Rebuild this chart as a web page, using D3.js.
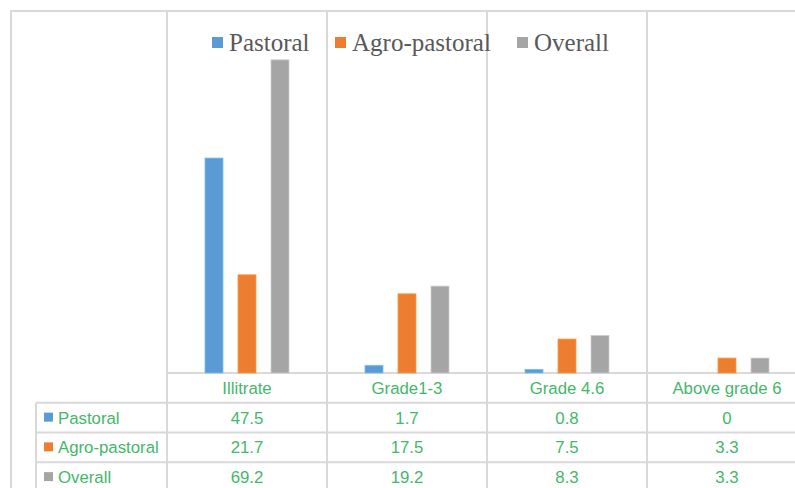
<!DOCTYPE html>
<html>
<head>
<meta charset="utf-8">
<script src="https://cdn.jsdelivr.net/npm/d3@7"></script>
<style>
  body { margin: 0; background: #fff; }
  svg { display: block; }
</style>
</head>
<body>
<script>
// data
var categories = ["Illitrate", "Grade1-3", "Grade 4.6", "Above grade 6"];
var seriesNames = ["Pastoral", "Agro-pastoral", "Overall"];
var pastoral = [47.5, 1.7, 0.8, 0];
var agroPastoral = [21.7, 17.5, 7.5, 3.3];
var overall = [69.2, 19.2, 8.3, 3.3];
var colors = ["#5b9bd5", "#ed7d31", "#a5a5a5"];

var values = [pastoral, agroPastoral, overall];

var width = 795, height = 488;
var svg = d3.select("body").append("svg")
    .attr("width", width)
    .attr("height", height);

var gridColor = "#d9d9d9";
var textGreen = "#45b76a";

var x = d3.scaleBand().domain(categories).range([167, 807]);
var xs = d3.scaleBand().domain(seriesNames).range([0, x.bandwidth()])
    .paddingInner(0.4545).paddingOuter(1.1515);
var y = d3.scaleLinear().domain([0, 80]).range([373, 11]);

// table rows (header + one per series)
var rows = d3.scaleBand().domain(["head"].concat(seriesNames)).range([373, 492]);

// outer frame
svg.append("line").attr("x1", 11).attr("x2", 11).attr("y1", 10).attr("y2", height)
  .attr("stroke", gridColor).attr("stroke-width", 2);
svg.append("line").attr("x1", 10).attr("x2", width).attr("y1", 11).attr("y2", 11)
  .attr("stroke", gridColor).attr("stroke-width", 2);

// vertical category dividers
svg.selectAll("line.div").data(categories).enter().append("line")
  .attr("class", "div")
  .attr("x1", function(d){ return x(d); })
  .attr("x2", function(d){ return x(d); })
  .attr("y1", 11).attr("y2", height)
  .attr("stroke", gridColor).attr("stroke-width", 2);

// baseline / header line
svg.append("line").attr("x1", 167).attr("x2", width).attr("y1", y(0)).attr("y2", y(0))
  .attr("stroke", gridColor).attr("stroke-width", 2);

// row lines
svg.selectAll("line.row").data(seriesNames).enter().append("line")
  .attr("class", "row")
  .attr("x1", 36).attr("x2", width)
  .attr("y1", function(d){ return rows(d); })
  .attr("y2", function(d){ return rows(d); })
  .attr("stroke", gridColor).attr("stroke-width", 2);
svg.append("line").attr("x1", 36).attr("x2", 36)
  .attr("y1", rows(seriesNames[0])).attr("y2", height)
  .attr("stroke", gridColor).attr("stroke-width", 2);

// bars
seriesNames.forEach(function(s, si){
  svg.selectAll("rect.s" + si).data(values[si]).enter().append("rect")
    .attr("class", "s" + si)
    .attr("x", function(d, i){ return x(categories[i]) + xs(s); })
    .attr("width", xs.bandwidth())
    .attr("y", function(d){ return y(d); })
    .attr("height", function(d){ return y(0) - y(d); })
    .attr("fill", colors[si])
    .attr("stroke", d3.color(colors[si]).brighter(0.6))
    .attr("stroke-width", 0.8);
});

// legend
var legendX = [212, 335, 517];
var legend = svg.selectAll("g.leg").data(seriesNames).enter().append("g")
  .attr("class", "leg")
  .attr("transform", function(d, i){ return "translate(" + legendX[i] + ",43)"; });
legend.append("rect").attr("x", 0).attr("y", -6).attr("width", 11).attr("height", 11)
  .attr("fill", function(d, i){ return colors[i]; });
legend.append("text").attr("x", 17).attr("y", 8)
  .attr("font-family", "Liberation Serif, Times New Roman, serif")
  .attr("font-size", 25).attr("fill", "#595959")
  .text(function(d){ return d; });

// table header
var tfont = "Liberation Sans, Arial, sans-serif";
var tsize = 16.8;
svg.selectAll("text.head").data(categories).enter().append("text")
  .attr("class", "head")
  .attr("x", function(d){ return x(d) + x.bandwidth() / 2; })
  .attr("y", rows("head") + rows.bandwidth() / 2 + 6)
  .attr("text-anchor", "middle")
  .attr("font-family", tfont).attr("font-size", tsize).attr("fill", textGreen)
  .text(function(d){ return d; });

// table rows
seriesNames.forEach(function(s, si){
  var cy = rows(s) + rows.bandwidth() / 2;
  svg.append("rect").attr("x", 44).attr("y", cy - 5).attr("width", 9).attr("height", 9)
    .attr("fill", colors[si]);
  svg.append("text").attr("x", 58).attr("y", cy + 6)
    .attr("font-family", tfont).attr("font-size", tsize).attr("fill", textGreen)
    .text(s);
  svg.selectAll("text.v" + si).data(values[si]).enter().append("text")
    .attr("class", "v" + si)
    .attr("x", function(d, i){ return x(categories[i]) + x.bandwidth() / 2; })
    .attr("y", cy + 6)
    .attr("text-anchor", "middle")
    .attr("font-family", tfont).attr("font-size", tsize).attr("fill", textGreen)
    .text(function(d){ return d; });
});
</script>
</body>
</html>
